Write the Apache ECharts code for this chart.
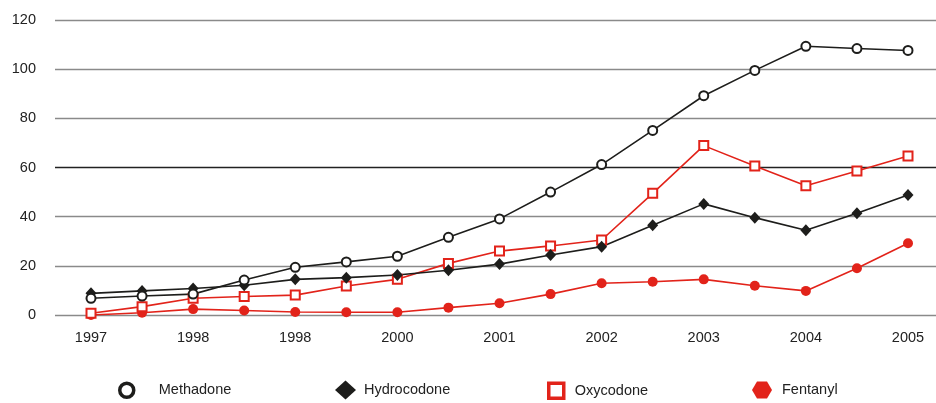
<!DOCTYPE html>
<html>
<head>
<meta charset="utf-8">
<script src="https://cdn.jsdelivr.net/npm/echarts@6/dist/echarts.min.js"></script>
<style>
html,body{margin:0;padding:0;background:#fff;}
#chart{width:936px;height:403px;}
</style>
</head>
<body>
<div id="chart"></div>
<script>
var categories = ['1997','','1998','','1998','','2000','','2001','','2002','','2003','','2004','','2005'];
var methadone   = [6.8, 7.7, 8.5, 14.2, 19.4, 21.6, 23.9, 31.6, 39.1, 50.0, 61.2, 75.1, 89.2, 99.5, 109.3, 108.4, 107.6];
var hydrocodone = [8.8, 9.8, 10.8, 12.1, 14.5, 15.2, 16.3, 18.2, 20.7, 24.4, 27.8, 36.5, 45.2, 39.6, 34.5, 41.4, 48.8];
var oxycodone   = [0.7, 3.4, 6.8, 7.5, 8.1, 11.8, 14.5, 21.0, 26.0, 28.1, 30.5, 49.5, 68.9, 60.6, 52.6, 58.6, 64.7];
var fentanyl    = [0.0, 0.9, 2.4, 1.8, 1.2, 1.1, 1.1, 3.0, 4.8, 8.5, 12.9, 13.5, 14.5, 11.9, 9.8, 19.0, 29.2];
var yMin = 0, yMax = 120, yStep = 20;

var BLACK = '#1d1d1b', RED = '#e2231a';
var FONT = 'Liberation Sans, Arial, sans-serif';
var hexPath = 'path://M5,0 L15,0 L20,8.5 L15,17 L5,17 L0,8.5 Z';

var chart = echarts.init(document.getElementById('chart'), null, {renderer:'canvas'});

function legendFor(name, left, iw, ih, gap, icon, itemStyle) {
  return {
    show: true,
    data: [{name: name, icon: icon, itemStyle: itemStyle}],
    left: left,
    top: 390 - Math.max(ih, 17) / 2,
    itemWidth: iw,
    itemHeight: ih,
    selectedMode: false,
    padding: 0,
    textStyle: {fontFamily: FONT, fontSize: 14.5, color: '#222', padding: [0, 0, 0, gap]}
  };
}

var option = {
  backgroundColor: '#fff',
  animation: false,
  textStyle: {fontFamily: FONT},
  grid: [
    {left: 55, right: 0, top: 20, bottom: 88},
    {left: 91, right: 28, top: 20, bottom: 88}
  ],
  xAxis: [
    {gridIndex: 0, type: 'value', min: 0, max: 1, show: false},
    {gridIndex: 1, type: 'category', data: categories, boundaryGap: false,
     axisLine: {show: false}, axisTick: {show: false},
     axisLabel: {interval: 0, margin: 15, fontSize: 14.5, color: '#222', fontFamily: FONT},
     splitLine: {show: false}}
  ],
  yAxis: [
    {gridIndex: 0, type: 'value', min: yMin, max: yMax, interval: yStep,
     axisLine: {show: false}, axisTick: {show: false},
     axisLabel: {margin: 19, fontSize: 14.5, color: '#222', fontFamily: FONT, verticalAlign: 'middle', padding: [0,0,8,0]},
     splitLine: {show: true, lineStyle: {width: 1.3, color: ['#8a8a8a','#8a8a8a','#8a8a8a','#222','#8a8a8a','#8a8a8a','#8a8a8a']}}},
    {gridIndex: 1, type: 'value', min: yMin, max: yMax, interval: yStep, show: false, splitLine: {show: false}}
  ],
  legend: [
    legendFor('Methadone', 118, 14, 14, 20, 'circle', {color: '#fff', borderColor: BLACK, borderWidth: 3.5}),
    legendFor('Hydrocodone', 335, 21, 19, 3, 'diamond', {color: BLACK}),
    legendFor('Oxycodone', 547, 15, 15, 6, 'rect', {color: '#fff', borderColor: RED, borderWidth: 3.5}),
    legendFor('Fentanyl', 752, 20, 17, 5, hexPath, {color: RED})
  ],
  series: [
    {name: 'Fentanyl', type: 'line', xAxisIndex: 1, yAxisIndex: 1, data: fentanyl,
     symbol: 'circle', symbolSize: 10, showAllSymbol: true,
     lineStyle: {color: RED, width: 1.6}, itemStyle: {color: RED, borderColor: RED, borderWidth: 0}},
    {name: 'Oxycodone', type: 'line', xAxisIndex: 1, yAxisIndex: 1, data: oxycodone,
     symbol: 'rect', symbolSize: 9, showAllSymbol: true,
     lineStyle: {color: RED, width: 1.6}, itemStyle: {color: '#fff', borderColor: RED, borderWidth: 2}},
    {name: 'Hydrocodone', type: 'line', xAxisIndex: 1, yAxisIndex: 1, data: hydrocodone,
     symbol: 'diamond', symbolSize: [11, 12], showAllSymbol: true,
     lineStyle: {color: BLACK, width: 1.6}, itemStyle: {color: BLACK, borderColor: BLACK, borderWidth: 0}},
    {name: 'Methadone', type: 'line', xAxisIndex: 1, yAxisIndex: 1, data: methadone,
     symbol: 'circle', symbolSize: 9, showAllSymbol: true,
     lineStyle: {color: BLACK, width: 1.6}, itemStyle: {color: '#fff', borderColor: BLACK, borderWidth: 2}}
  ]
};
chart.setOption(option);
</script>
</body>
</html>
